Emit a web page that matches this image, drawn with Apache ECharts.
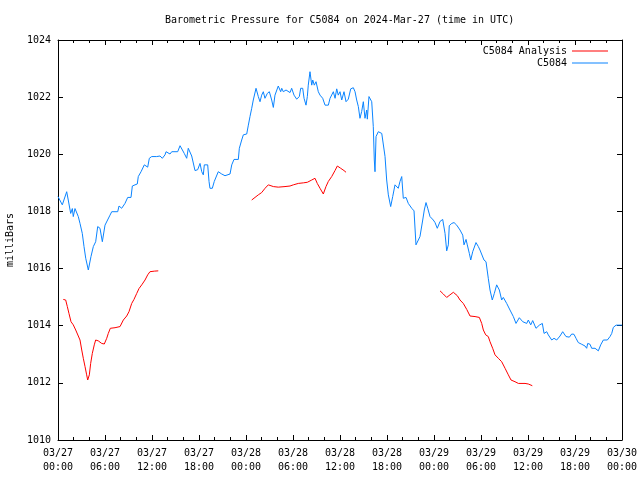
<!DOCTYPE html>
<html><head><meta charset="utf-8">
<script src="https://cdn.jsdelivr.net/npm/echarts@6/dist/echarts.min.js"></script>
<style>html,body{margin:0;padding:0;background:#fff}#c{width:640px;height:480px}</style>
</head><body><div id="c"></div><script>
// x values are hours since 2024-03-27 00:00 UTC
const xTickLabels = ["03/27\n00:00","03/27\n06:00","03/27\n12:00","03/27\n18:00","03/28\n00:00","03/28\n06:00","03/28\n12:00","03/28\n18:00","03/29\n00:00","03/29\n06:00","03/29\n12:00","03/29\n18:00","03/30\n00:00"];

const blueHours = [0,0.55,1.11,1.31,1.62,1.83,1.95,2.17,2.59,2.81,3.10,3.32,3.54,3.87,4.21,4.51,4.81,5.07,5.36,5.66,6.00,6.22,6.64,6.86,7.62,7.79,8.13,8.55,8.90,9.32,9.49,9.83,10.12,10.25,10.60,11.02,11.45,11.66,11.96,12.17,12.60,13.02,13.32,13.66,13.79,14.30,14.52,15.28,15.58,15.80,16.12,16.43,16.63,16.85,17.07,17.49,17.83,18.13,18.35,18.55,18.68,19.11,19.28,19.40,19.70,19.95,20.46,20.90,21.32,21.54,21.96,22.18,22.47,23.02,23.15,23.45,23.66,24.09,24.30,24.51,24.73,24.93,25.28,25.57,25.79,26.00,26.21,26.42,26.72,26.98,27.28,27.49,27.70,28.12,28.43,28.56,28.76,29.11,29.62,29.83,30.13,30.47,30.81,30.98,31.24,31.41,31.66,31.83,31.95,32.17,32.39,32.52,32.72,32.94,33.23,33.45,33.79,34.09,34.51,34.73,35.15,35.37,35.58,35.78,36.00,36.22,36.51,36.77,37.06,37.37,37.70,37.92,38.13,38.34,38.55,38.77,38.98,39.19,39.41,39.49,39.70,40.05,40.25,40.38,40.47,40.60,40.89,41.33,41.53,41.75,41.96,42.17,42.47,42.73,43.02,43.24,43.44,43.66,43.88,44.08,44.43,44.72,45.16,45.45,45.70,46.00,46.21,46.56,46.76,46.98,47.20,47.49,47.91,48.13,48.42,48.77,49.11,49.41,49.62,49.83,49.95,50.26,50.56,50.90,51.32,51.67,51.83,52.09,52.25,52.51,52.69,52.94,53.36,53.66,53.87,54.09,54.38,54.64,54.93,55.15,55.44,55.70,56.00,56.34,56.64,56.85,57.28,57.70,58.13,58.47,58.64,58.89,59.33,59.84,60.04,60.35,60.60,61.02,61.45,61.83,62.05,62.39,62.59,63.03,63.32,63.66,64.09,64.43,64.63,64.85,65.28,65.58,65.87,66.13,66.42,66.86,67.28,67.49,67.62,67.92,68.13,68.56,68.98,69.28,69.62,70.13,70.47,70.69,70.89,71.24,71.84,72.0];
const bluePressure = [1018.52,1018.23,1018.69,1018.40,1017.93,1018.10,1017.82,1018.10,1017.82,1017.58,1017.23,1016.77,1016.36,1015.95,1016.42,1016.77,1016.94,1017.47,1017.41,1016.94,1017.52,1017.47,1017.87,1017.99,1017.99,1018.19,1018.11,1018.28,1018.49,1018.49,1018.89,1018.93,1018.96,1019.22,1019.39,1019.63,1019.55,1019.86,1019.92,1019.86,1019.92,1019.94,1019.86,1019.98,1020.09,1020.01,1020.09,1020.09,1020.30,1020.27,1020.03,1019.86,1020.21,1020.15,1019.94,1019.43,1019.46,1019.68,1019.39,1019.28,1019.63,1019.63,1019.05,1018.81,1018.81,1019.05,1019.39,1019.31,1019.25,1019.31,1019.31,1019.63,1019.82,1019.82,1020.21,1020.50,1020.68,1020.71,1021.02,1021.32,1021.61,1021.90,1022.31,1022.02,1021.84,1022.07,1022.19,1021.96,1022.13,1022.19,1021.90,1021.64,1022.07,1022.39,1022.19,1022.31,1022.19,1022.25,1022.16,1022.31,1022.07,1021.93,1022.02,1022.31,1022.31,1021.96,1021.72,1022.02,1022.42,1022.89,1022.42,1022.60,1022.42,1022.54,1022.19,1022.07,1021.96,1021.72,1021.72,1021.96,1022.19,1021.96,1022.29,1022.07,1022.19,1021.90,1022.19,1021.84,1021.93,1022.29,1022.33,1022.19,1021.90,1021.67,1021.26,1021.50,1021.84,1021.26,1021.55,1021.23,1022.02,1021.84,1020.97,1019.80,1019.39,1020.62,1020.79,1020.73,1020.68,1019.92,1019.10,1018.58,1018.17,1018.52,1018.93,1018.90,1018.81,1019.05,1019.22,1018.46,1018.49,1018.28,1018.11,1018.02,1016.83,1017.00,1017.12,1017.70,1018.05,1018.31,1018.11,1017.82,1017.70,1017.61,1017.41,1017.65,1017.72,1017.23,1016.62,1016.83,1017.50,1017.58,1017.61,1017.52,1017.35,1017.17,1016.83,1017.02,1016.83,1016.53,1016.30,1016.59,1016.91,1016.77,1016.65,1016.71,1016.30,1016.24,1015.66,1015.25,1014.90,1015.13,1015.43,1015.25,1014.90,1014.99,1014.78,1014.55,1014.32,1014.08,1014.08,1014.28,1014.14,1014.08,1014.20,1014.03,1014.18,1013.91,1014.02,1014.08,1013.73,1013.79,1013.68,1013.50,1013.56,1013.50,1013.64,1013.79,1013.79,1013.62,1013.60,1013.71,1013.70,1013.56,1013.41,1013.35,1013.29,1013.21,1013.38,1013.35,1013.21,1013.21,1013.12,1013.33,1013.50,1013.50,1013.62,1013.73,1013.94,1014.02,1014.02,1014.02];

// analysis series: null marks a gap between segments
const redHours = [0.68,0.98,1.19,1.40,1.66,1.95,2.26,2.59,2.81,3.03,3.23,3.45,3.66,3.79,4.00,4.17,4.38,4.63,4.81,5.14,5.58,5.91,6.22,6.42,6.68,7.28,7.92,8.34,8.77,9.06,9.41,9.70,10.05,10.34,10.69,11.11,11.45,11.74,12.29,12.80,
  18.0,
  24.73,25.15,25.57,26.00,26.43,26.85,27.49,28.12,28.98,29.62,30.04,30.68,31.32,31.83,32.39,32.81,33.10,33.45,33.87,34.21,34.51,34.94,35.36,35.66,36.09,36.51,36.77,
  42.0,
  48.77,49.19,49.62,50.04,50.47,50.68,50.98,51.32,51.74,52.18,52.60,53.24,53.79,54.09,54.30,54.60,54.93,55.15,55.49,55.79,56.21,56.64,57.07,57.49,57.83,58.34,58.77,59.62,60.04,60.55];
const redPressure = [1014.92,1014.90,1014.67,1014.43,1014.14,1014.03,1013.85,1013.64,1013.50,1013.15,1012.86,1012.57,1012.28,1012.10,1012.28,1012.68,1013.03,1013.33,1013.50,1013.47,1013.38,1013.36,1013.56,1013.73,1013.91,1013.93,1013.97,1014.20,1014.34,1014.49,1014.78,1014.92,1015.13,1015.30,1015.43,1015.60,1015.78,1015.89,1015.91,1015.92,
  null,
  1018.40,1018.49,1018.58,1018.66,1018.81,1018.93,1018.87,1018.85,1018.87,1018.89,1018.93,1018.98,1019.00,1019.02,1019.10,1019.16,1018.98,1018.81,1018.61,1018.87,1019.05,1019.22,1019.43,1019.59,1019.51,1019.43,1019.37,
  null,
  1015.22,1015.11,1014.99,1015.08,1015.17,1015.20,1015.05,1014.90,1014.78,1014.57,1014.34,1014.32,1014.29,1014.08,1013.85,1013.68,1013.62,1013.44,1013.21,1012.98,1012.86,1012.74,1012.51,1012.28,1012.10,1012.04,1011.98,1011.98,1011.96,1011.90];

const FONT = 'DejaVu Sans Mono';
const blueData = blueHours.map((h, i) => [h, bluePressure[i]]);
const redData = redHours.map((h, i) => [h, redPressure[i] === null ? '-' : redPressure[i]]);

const chart = echarts.init(document.getElementById('c'), null, {renderer: 'canvas'});
const xBase = {
  type: 'value', min: 0, max: 72, interval: 6,
  axisLine: {show: true, onZero: false, lineStyle: {color: '#000', width: 1}},
  axisTick: {show: true, inside: true, length: 5, lineStyle: {color: '#000'}},
  minorTick: {show: true, splitNumber: 3, length: 3, lineStyle: {color: '#000'}},
  splitLine: {show: false}, minorSplitLine: {show: false}
};
const yBase = {
  type: 'value', min: 1010, max: 1024, interval: 2,
  axisLine: {show: true, onZero: false, lineStyle: {color: '#000', width: 1}},
  axisTick: {show: true, inside: true, length: 5, lineStyle: {color: '#000'}},
  splitLine: {show: false}
};
chart.setOption({
  animation: false,
  backgroundColor: '#fff',
  title: {
    text: 'Barometric Pressure for C5084 on 2024-Mar-27 (time in UTC)',
    left: 160, top: 10,
    textStyle: {fontFamily: FONT, fontSize: 10, fontWeight: 'normal', color: '#000'}
  },
  legend: {
    orient: 'vertical', right: 32, top: 45, align: 'right', padding: 0,
    icon: 'rect', itemWidth: 36, itemHeight: 1, itemGap: 0,
    textStyle: {fontFamily: FONT, fontSize: 10, color: '#000', lineHeight: 12},
    data: ['C5084 Analysis', 'C5084']
  },
  grid: {left: 58, right: 18, top: 40, bottom: 40, containLabel: false, outerBoundsMode: 'none'},
  xAxis: [
    Object.assign({}, xBase, {
      position: 'bottom',
      axisLabel: {show: true, margin: 6, fontFamily: FONT, fontSize: 10, color: '#000', lineHeight: 14,
        formatter: v => xTickLabels[Math.round(v / 6)]}
    }),
    Object.assign({}, xBase, {position: 'top', axisLabel: {show: false}})
  ],
  yAxis: [
    Object.assign({}, yBase, {
      position: 'left',
      name: 'milliBars', nameLocation: 'middle', nameGap: 43, nameRotate: 90,
      nameTextStyle: {fontFamily: FONT, fontSize: 10, color: '#000'},
      axisLabel: {show: true, margin: 7, fontFamily: FONT, fontSize: 10, color: '#000',
        formatter: v => String(v)}
    }),
    Object.assign({}, yBase, {position: 'right', axisLabel: {show: false}})
  ],
  series: [
    {name: 'C5084 Analysis', type: 'line', data: redData, symbol: 'none', connectNulls: false,
      lineStyle: {color: '#ff0000', width: 1}, itemStyle: {color: '#ff0000'}, xAxisIndex: 0, yAxisIndex: 0},
    {name: 'C5084', type: 'line', data: blueData, symbol: 'none',
      lineStyle: {color: '#0a84ff', width: 1}, itemStyle: {color: '#0a84ff'}, xAxisIndex: 0, yAxisIndex: 0}
  ]
});
</script></body></html>
